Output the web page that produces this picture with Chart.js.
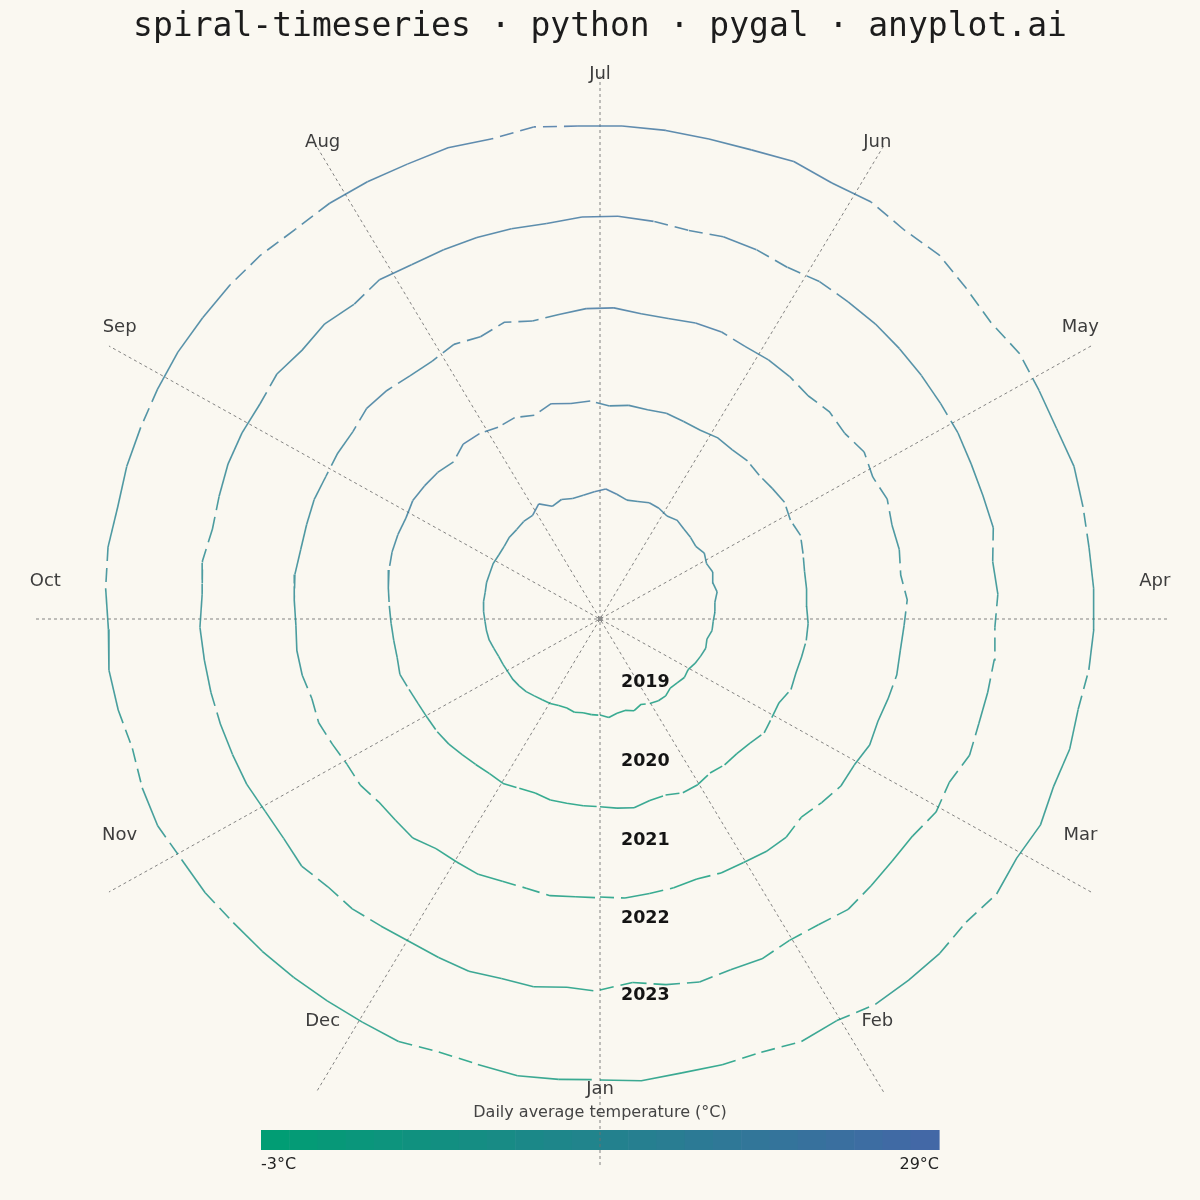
<!DOCTYPE html>
<html lang="en">
<head>
    <meta charset="UTF-8">
    <title>spiral-timeseries · python · pygal · anyplot.ai</title>
    <style>
        html, body { margin: 0; padding: 0; background: #FAF8F1; }
        #wrap { width: 1200px; height: 1200px; }
    </style>
</head>
<body>
    <div id="wrap"><canvas id="spiralChart" width="1200" height="1200"></canvas></div>

    <script src="https://cdn.jsdelivr.net/npm/chart.js"></script>
    <script>
        // Data: daily average temperature (°C), one reading every 5 days (+ Dec 31)
        const years = ['2019', '2020', '2021', '2022', '2023'];
        const months = ['Jan', 'Feb', 'Mar', 'Apr', 'May', 'Jun', 'Jul', 'Aug', 'Sep', 'Oct', 'Nov', 'Dec'];
        const sampleDays = [0, 5, 10, 15, 20, 25, 30, 35, 40, 45, 50, 55, 60, 65, 70, 75, 80, 85, 90, 95,
            100, 105, 110, 115, 120, 125, 130, 135, 140, 145, 150, 155, 160, 165, 170, 175, 180, 185, 190, 195,
            200, 205, 210, 215, 220, 225, 230, 235, 240, 245, 250, 255, 260, 265, 270, 275, 280, 285, 290, 295,
            300, 305, 310, 315, 320, 325, 330, 335, 340, 345, 350, 355, 360, 364];

        const temps2019 = [0.5, 2.5, 0.3, -0.5, 1.5, -0.8, 1.3, 2.8, 3.0, 1.0,
            1.9, 3.4, 2.5, 4.5, 6.0, 7.5, 6.8, 9.3, 9.7, 11.0,
            11.7, 14.6, 13.5, 16.2, 15.0, 17.5, 15.6, 17.0, 18.0, 19.9,
            18.5, 20.5, 21.3, 19.5, 18.6, 21.5, 24.5, 22.6, 20.7, 19.8,
            21.0, 18.6, 24.0, 19.0, 18.9, 17.5, 17.1, 15.6, 15.0, 15.2,
            14.3, 14.0, 13.0, 12.8, 12.0, 10.9, 10.3, 9.5, 7.8, 6.5,
            6.0, 5.6, 5.7, 5.2, 4.5, 3.0, 2.0, 1.3, 0.0, -0.5,
            0.8, -0.1, 0.5, 0.6];
        const temps2020 = [1.0, 2.5, 3.7, 1.0, 0.5, 3.5, 3.0, 0.5, 1.8, 1.5,
            3.0, 6.0, 4.5, 3.8, 7.5, 7.0, 8.1, 9.5, 10.0, 9.2,
            10.5, 11.5, 14.0, 17.0, 15.5, 18.5, 17.5, 16.8, 18.5, 18.0,
            19.3, 18.1, 19.0, 20.5, 19.7, 20.5, 19.0, 22.5, 21.8, 24.0,
            19.0, 22.0, 20.5, 22.8, 23.0, 17.5, 19.7, 20.3, 20.7, 18.4,
            18.2, 17.5, 16.0, 14.0, 12.0, 10.5, 9.5, 9.0, 10.0, 7.5,
            5.8, 5.0, 4.8, 4.0, 2.5, 1.5, 1.0, 2.0, 0.0, -1.0,
            0.7, 0.5, 0.8, 0.9];
        const temps2021 = [0.5, 2.0, 1.0, 0.5, -0.7, 1.5, 2.0, 3.5, 3.6, 0.0,
            3.0, 6.0, 5.5, 8.0, 6.5, 8.0, 9.8, 9.6, 11.0, 13.5,
            11.0, 13.5, 13.5, 17.0, 15.0, 19.0, 16.0, 18.0, 16.0, 18.5,
            20.0, 20.4, 23.0, 23.0, 21.3, 21.5, 24.0, 23.5, 21.0, 19.5,
            23.5, 19.4, 22.0, 19.0, 19.0, 21.0, 21.6, 18.0, 17.5, 16.0,
            16.0, 14.5, 13.5, 14.0, 12.5, 11.0, 11.5, 10.5, 8.0, 9.0,
            6.5, 4.5, 5.0, 2.5, 3.0, 4.5, 1.0, 1.5, 2.6, 1.0,
            0.8, 2.5, 1.1, 1.0];
        const temps2022 = [1.9, -2.4, 2.0, 5.0, 3.1, 4.0, 0.9, 2.0, 5.5, 3.5,
            2.0, 2.0, 6.0, 4.0, 9.0, 7.9, 8.6, 9.5, 8.5, 11.0,
            10.0, 15.0, 14.5, 15.0, 16.5, 17.0, 18.0, 19.0, 20.0, 20.3,
            21.0, 19.0, 21.5, 22.5, 20.8, 23.0, 24.5, 24.0, 21.5, 22.0,
            22.0, 21.5, 21.0, 22.5, 18.0, 20.0, 17.5, 19.5, 16.5, 16.5,
            15.5, 13.0, 11.0, 13.3, 11.0, 12.0, 10.5, 9.5, 8.5, 7.5,
            7.0, 5.0, 5.0, 7.5, 4.5, 5.0, 3.0, 2.0, 3.0, 4.2,
            2.5, 3.5, 1.0, 2.5];
        const temps2023 = [1.2, 3.0, 1.0, 1.2, 0.7, 4.0, 1.8, 6.0, 6.0, 6.0,
            4.0, 8.0, 5.5, 8.6, 6.0, 8.0, 7.0, 10.0, 11.5, 12.0,
            12.0, 13.5, 15.5, 14.0, 15.0, 17.0, 14.0, 17.0, 21.0, 19.5,
            23.0, 21.5, 24.5, 22.5, 22.5, 23.5, 24.0, 24.0, 26.0, 22.5,
            24.0, 22.5, 22.5, 22.0, 20.0, 21.0, 20.5, 19.5, 19.0, 17.5,
            16.0, 15.0, 13.0, 14.0, 12.5, 10.0, 11.5, 9.5, 6.5, 9.0,
            10.0, 7.0, 6.5, 4.5, 4.0, 3.5, 3.0, 3.0, 4.0, 0.5,
            1.0, 3.0, 2.0, 1.0];

        const tempMin = -3;
        const tempMax = 29;
        const series = [temps2019, temps2020, temps2021, temps2022, temps2023];

        const colorLow = [0, 158, 115];
        const colorHigh = [68, 103, 167];
        const binWidth = 4;

        function tempColor(t, alpha = 1) {
            const f = Math.min(1, Math.max(0, (t - tempMin) / (tempMax - tempMin)));
            const c = colorLow.map((v, i) => Math.round(v + (colorHigh[i] - v) * f));
            return `rgba(${c[0]}, ${c[1]}, ${c[2]}, ${alpha})`;
        }
        function tempBin(t) { return Math.floor((t - tempMin) / binWidth); }

        // year ring radius + temperature offset, Jan at the bottom, counter-clockwise
        function ringPoint(day, yearIdx, t) {
            const r = yearIdx + 1 + 0.5 * (t - tempMin) / (tempMax - tempMin);
            const a = day / 365 * 2 * Math.PI;
            return { x: r * Math.sin(a), y: -r * Math.cos(a) };
        }

        const ringSets = series.map((temps, yi) => ({
            label: years[yi],
            data: temps.map((t, i) => ringPoint(sampleDays[i], yi, t)),
            showLine: true,
            pointRadius: 0,
            borderWidth: 1.6,
            borderColor: tempColor(10, 0.8),
            segment: {
                borderColor: ctx => tempColor((temps[ctx.p0DataIndex] + temps[ctx.p1DataIndex]) / 2, 0.8),
                borderDash: ctx => tempBin(temps[ctx.p0DataIndex]) !== tempBin(temps[ctx.p1DataIndex]) ? [14, 7] : undefined
            },
            order: 0
        }));

        const spokeSets = [0, 1, 2, 3, 4, 5].map(i => {
            const a = i * Math.PI / 6;
            return {
                data: [{ x: 6 * Math.sin(a), y: -6 * Math.cos(a) }, { x: -6 * Math.sin(a), y: 6 * Math.cos(a) }],
                showLine: true,
                pointRadius: 0,
                borderColor: 'rgba(110, 110, 110, 0.85)',
                borderWidth: 1,
                borderDash: [3, 3],
                order: 2
            };
        });

        const centerDot = {
            data: [{ x: 0, y: 0 }],
            pointStyle: 'rect',
            pointRadius: 3,
            backgroundColor: '#8a8a8a',
            borderWidth: 0,
            order: 1
        };

        const decorations = {
            id: 'decorations',
            beforeDraw(chart) {
                const ctx = chart.ctx;
                ctx.save();
                ctx.fillStyle = '#FAF8F1';
                ctx.fillRect(0, 0, chart.width, chart.height);
                ctx.restore();
            },
            beforeDatasetsDraw(chart) {
                // colour bar
                const ctx = chart.ctx;
                const x0 = 261, x1 = 939, y0 = 1130, h = 20, steps = 24;
                const w = (x1 - x0) / steps;
                ctx.save();
                for (let i = 0; i < steps; i++) {
                    ctx.fillStyle = tempColor(tempMin + (tempMax - tempMin) * (i + 0.5) / steps);
                    ctx.fillRect(x0 + i * w, y0, w + 0.6, h);
                }
                ctx.restore();
            },
            afterDatasetsDraw(chart) {
                const ctx = chart.ctx;
                const xs = chart.scales.x, ys = chart.scales.y;
                const cx = xs.getPixelForValue(0);
                ctx.save();
                ctx.textBaseline = 'middle';

                ctx.fillStyle = '#1c1c1c';
                ctx.textAlign = 'center';
                ctx.font = '33px "DejaVu Sans Mono", monospace';
                ctx.fillText('spiral-timeseries · python · pygal · anyplot.ai', 600, 27);

                ctx.fillStyle = '#3d3d3d';
                ctx.font = '18px "DejaVu Sans", sans-serif';
                months.forEach((m, i) => {
                    const a = i * Math.PI / 6;
                    const px = xs.getPixelForValue(5.87 * Math.sin(a));
                    const py = ys.getPixelForValue(-5.58 * Math.cos(a) + 0.41);
                    ctx.fillText(m, px, py);
                });

                ctx.fillStyle = '#141414';
                ctx.textAlign = 'left';
                ctx.font = 'bold 17.5px "DejaVu Sans", sans-serif';
                const labelDepth = [0.70, 1.56, 2.43, 3.29, 4.14];
                years.forEach((y, i) => {
                    ctx.fillText(y, cx + 21, ys.getPixelForValue(-labelDepth[i]));
                });

                ctx.fillStyle = '#444';
                ctx.textAlign = 'center';
                ctx.font = '16px "DejaVu Sans", sans-serif';
                ctx.fillText('Daily average temperature (°C)', 600, 1113);
                ctx.fillStyle = '#222';
                ctx.textAlign = 'left';
                ctx.fillText(tempMin + '°C', 261, 1165);
                ctx.textAlign = 'right';
                ctx.fillText(tempMax + '°C', 939, 1165);
                ctx.restore();
            }
        };

        new Chart(document.getElementById('spiralChart'), {
            type: 'scatter',
            data: { datasets: [...ringSets, centerDot, ...spokeSets] },
            options: {
                responsive: false,
                animation: false,
                devicePixelRatio: 1,
                layout: { padding: { left: 33, right: 33, top: 73, bottom: 35 } },
                scales: {
                    x: { type: 'linear', min: -6, max: 6, display: false },
                    y: { type: 'linear', min: -6, max: 6, display: false }
                },
                plugins: {
                    legend: { display: false },
                    tooltip: { enabled: false }
                }
            },
            plugins: [decorations]
        });
    </script>
</body>
</html>
